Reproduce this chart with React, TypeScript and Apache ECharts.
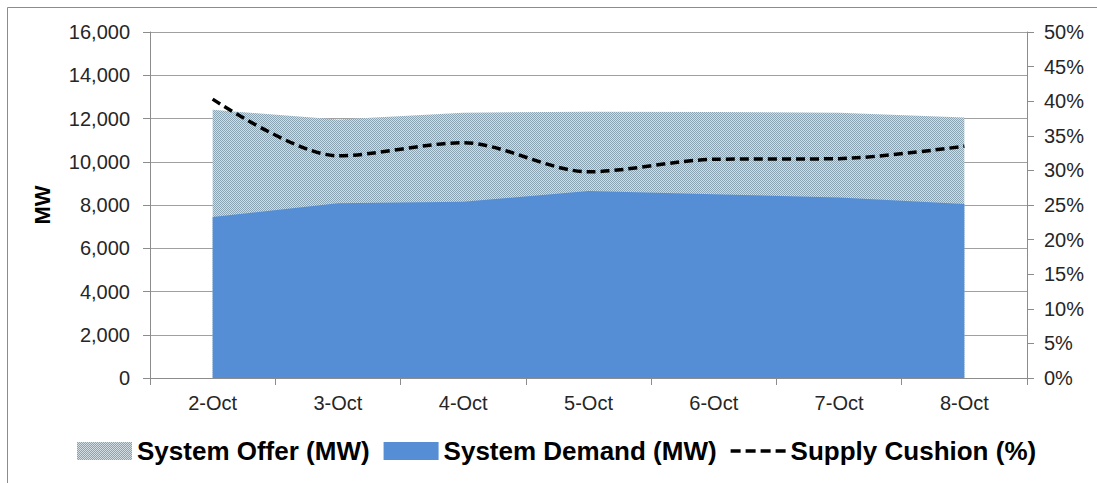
import React, { useEffect, useRef } from "react";
import * as echarts from "echarts";

const categories = ["2-Oct", "3-Oct", "4-Oct", "5-Oct", "6-Oct", "7-Oct", "8-Oct"];
const systemOffer = [12400, 11950, 12270, 12310, 12300, 12270, 12050];
const systemDemand = [7450, 8080, 8150, 8650, 8500, 8350, 8050];
const supplyCushion = [40.3, 32.1, 34.0, 29.8, 31.6, 31.7, 33.5];

const FONT = "'Liberation Sans', Arial, sans-serif";

function makePattern(): string {
  const c = document.createElement("canvas");
  c.width = 2;
  c.height = 2;
  const ctx = c.getContext("2d");
  if (!ctx) return "#aabdc8";
  ctx.fillStyle = "#d2dde3";
  ctx.fillRect(0, 0, 2, 2);
  ctx.fillStyle = "#8aa4b4";
  ctx.fillRect(0, 0, 1, 1);
  ctx.fillRect(1, 1, 1, 1);
  return c.toDataURL();
}

const DASH_ICON =
  "path://M0,0h10v3.5h-10z M15,0h10v3.5h-10z M30,0h10v3.5h-10z M45,0h10v3.5h-10z";

export default function App() {
  const ref = useRef<HTMLDivElement>(null);
  useEffect(() => {
    if (!ref.current) return;
    const chart = echarts.init(ref.current, undefined, { renderer: "svg" });
    const pat = makePattern();
    const offerColor: any =
      pat.startsWith("data:") ? { image: pat, repeat: "repeat" } : pat;
    const option: any = {
      animation: false,
      backgroundColor: "#ffffff",
      textStyle: { fontFamily: FONT },
      grid: { left: 150, right: 70, top: 32, bottom: 105, containLabel: false },
      graphic: [
        {
          type: "rect",
          shape: { x: 7.5, y: 7.5, width: 1100, height: 520 },
          style: { fill: "none", stroke: "#8c8c8c", lineWidth: 1 },
          silent: true,
          z: 0,
        },
      ],
      legend: {
        left: 72,
        top: 433,
        itemWidth: 55,
        itemHeight: 18,
        itemGap: 14,
        symbolKeepAspect: true,
        textStyle: { fontFamily: FONT, fontSize: 26, fontWeight: "bold", color: "#000" },
        data: [
          { name: "System Offer (MW)", icon: "rect", itemStyle: { color: offerColor } },
          { name: "System Demand (MW)", icon: "rect", itemStyle: { color: "#558ed5" } },
          { name: "Supply Cushion (%)", icon: DASH_ICON, itemStyle: { color: "#000" } },
        ],
      },
      xAxis: {
        type: "category",
        data: categories,
        boundaryGap: true,
        axisLine: { lineStyle: { color: "#8c8c8c", width: 1 } },
        axisTick: { show: true, length: 7, lineStyle: { color: "#8c8c8c" } },
        axisLabel: { fontSize: 20, color: "#262626", margin: 15, fontFamily: FONT },
        splitLine: { show: false },
      },
      yAxis: [
        {
          type: "value",
          min: 0,
          max: 16000,
          interval: 2000,
          name: "MW",
          nameLocation: "middle",
          nameGap: 97,
          nameRotate: 90,
          nameTextStyle: { fontSize: 22, fontWeight: "bold", color: "#000", fontFamily: FONT },
          axisLine: { show: true, lineStyle: { color: "#8c8c8c" } },
          axisTick: { show: true, length: 7, lineStyle: { color: "#8c8c8c" } },
          axisLabel: {
            fontSize: 20,
            color: "#262626",
            margin: 20,
            fontFamily: FONT,
            formatter: (v: number) => v.toLocaleString("en-US"),
          },
          splitLine: { show: true, lineStyle: { color: "#a0a0a0", width: 1 } },
        },
        {
          type: "value",
          min: 0,
          max: 50,
          interval: 5,
          position: "right",
          axisLine: { show: true, lineStyle: { color: "#8c8c8c" } },
          axisTick: { show: true, length: 7, lineStyle: { color: "#8c8c8c" } },
          axisLabel: {
            fontSize: 20,
            color: "#262626",
            margin: 17,
            fontFamily: FONT,
            formatter: "{value}%",
          },
          splitLine: { show: false },
        },
      ],
      series: [
        {
          name: "System Offer (MW)",
          type: "line",
          data: systemOffer,
          yAxisIndex: 0,
          symbol: "none",
          lineStyle: { width: 0 },
          itemStyle: { color: offerColor },
          areaStyle: { color: offerColor, opacity: 1 },
          z: 1,
        },
        {
          name: "System Demand (MW)",
          type: "line",
          data: systemDemand,
          yAxisIndex: 0,
          symbol: "none",
          lineStyle: { width: 0 },
          itemStyle: { color: "#558ed5" },
          areaStyle: { color: "#558ed5", opacity: 1 },
          z: 2,
        },
        {
          name: "Supply Cushion (%)",
          type: "line",
          data: supplyCushion,
          yAxisIndex: 1,
          symbol: "none",
          smooth: 0.3,
          itemStyle: { color: "#000" },
          lineStyle: { color: "#000", width: 3.5, type: [9, 5] },
          z: 3,
        },
      ],
    };
    chart.setOption(option);
    return () => chart.dispose();
  }, []);
  return (
    <div
      ref={ref}
      style={{ position: "fixed", left: 0, top: 0, width: 1097, height: 483 }}
    />
  );
}
